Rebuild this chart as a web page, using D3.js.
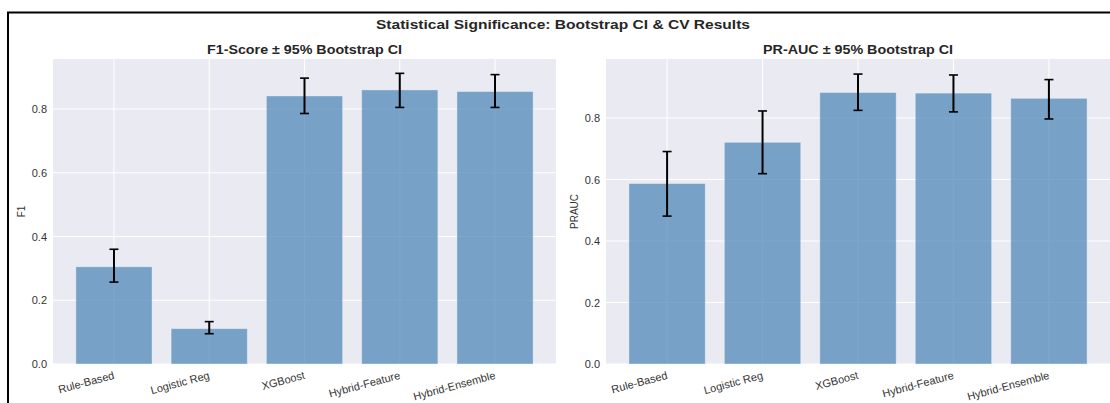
<!DOCTYPE html>
<html>
<head>
<meta charset="utf-8">
<script src="https://cdn.jsdelivr.net/npm/d3@7"></script>
<style>
  html, body { margin: 0; padding: 0; background: #fff; }
  svg { display: block; font-family: "Liberation Sans", Arial, sans-serif; }
</style>
</head>
<body>
<svg id="chart" width="1110" height="403"></svg>
<script>
// Model names shared by both panels
const models = ["Rule-Based", "Logistic Reg", "XGBoost", "Hybrid-Feature", "Hybrid-Ensemble"];

// F1 point estimates with 95% bootstrap interval bounds
const f1Values = [0.305, 0.111, 0.841, 0.860, 0.855];
const f1Lower  = [0.257, 0.095, 0.786, 0.805, 0.805];
const f1Upper  = [0.360, 0.133, 0.897, 0.912, 0.908];

// PR-AUC point estimates with 95% bootstrap interval bounds
const prValues = [0.587, 0.721, 0.883, 0.881, 0.864];
const prLower  = [0.481, 0.619, 0.825, 0.820, 0.797];
const prUpper  = [0.691, 0.823, 0.943, 0.940, 0.925];

const yTicks = [0.0, 0.2, 0.4, 0.6, 0.8];

const svg = d3.select("#chart");
const textColor = "#262626";

// Outer figure frame
svg.append("path")
  .attr("d", "M8,404 L8,12.5 L1112,12.5")
  .attr("fill", "none")
  .attr("stroke", "#000")
  .attr("stroke-width", 2);

// Figure title
svg.append("text")
  .attr("x", 563).attr("y", 28.5)
  .attr("text-anchor", "middle")
  .attr("font-size", 13).attr("font-weight", "bold")
  .attr("fill", textColor)
  .attr("textLength", 374).attr("lengthAdjust", "spacingAndGlyphs")
  .text("Statistical Significance: Bootstrap CI & CV Results");

function panel(opts) {
  const { left, right, top, bottom, yMax, values, lower, upper, title, titleWidth, ylabel, ylabelX } = opts;
  const g = svg.append("g");

  const x = d3.scaleLinear().domain([-0.64, models.length - 1 + 0.64]).range([left, right]);
  const y = d3.scaleLinear().domain([0, yMax]).range([bottom, top]);

  // plot background
  g.append("rect")
    .attr("x", left).attr("y", top)
    .attr("width", right - left).attr("height", bottom - top)
    .attr("fill", "#eaeaf2");

  // grid
  g.selectAll(".hgrid").data(yTicks).join("line")
    .attr("x1", left).attr("x2", right)
    .attr("y1", d => y(d)).attr("y2", d => y(d))
    .attr("stroke", "#fff").attr("stroke-width", 1.1);
  g.selectAll(".vgrid").data(models).join("line")
    .attr("x1", (d, i) => x(i)).attr("x2", (d, i) => x(i))
    .attr("y1", top).attr("y2", bottom)
    .attr("stroke", "#fff").attr("stroke-width", 1.1);

  // bars
  const bw = x(0.4) - x(-0.4);
  g.selectAll(".bar").data(values).join("rect")
    .attr("x", (d, i) => x(i) - bw / 2)
    .attr("width", bw)
    .attr("y", d => y(d))
    .attr("height", d => y(0) - y(d))
    .attr("fill", "steelblue")
    .attr("fill-opacity", 0.7)
    .attr("stroke", "#fff")
    .attr("stroke-opacity", 0.35)
    .attr("stroke-width", 1);

  // error bars
  const cap = 4.5;
  const eb = g.selectAll(".err").data(values).join("g");
  eb.append("line")
    .attr("x1", (d, i) => x(i)).attr("x2", (d, i) => x(i))
    .attr("y1", (d, i) => y(lower[i])).attr("y2", (d, i) => y(upper[i]))
    .attr("stroke", "#000").attr("stroke-width", 2);
  eb.append("line")
    .attr("x1", (d, i) => x(i) - cap).attr("x2", (d, i) => x(i) + cap)
    .attr("y1", (d, i) => y(upper[i])).attr("y2", (d, i) => y(upper[i]))
    .attr("stroke", "#000").attr("stroke-width", 1.6);
  eb.append("line")
    .attr("x1", (d, i) => x(i) - cap).attr("x2", (d, i) => x(i) + cap)
    .attr("y1", (d, i) => y(lower[i])).attr("y2", (d, i) => y(lower[i]))
    .attr("stroke", "#000").attr("stroke-width", 1.6);

  // y axis labels
  const yAxis = d3.axisLeft(y).tickValues(yTicks).tickFormat(d3.format(".1f")).tickSize(0).tickPadding(6);
  const ya = g.append("g").attr("transform", `translate(${left},0)`).call(yAxis);
  ya.select(".domain").remove();
  ya.selectAll("text").attr("font-size", 11).attr("fill", "#333").attr("font-family", "Liberation Sans, Arial, sans-serif");

  // x axis labels (rotated)
  const xa = g.append("g").attr("transform", `translate(0,${bottom})`);
  xa.selectAll("text").data(models).join("text")
    .attr("transform", (d, i) => `translate(${x(i) - 1},${7}) rotate(-15)`)
    .attr("text-anchor", "end")
    .attr("dy", "0.71em")
    .attr("font-size", 11)
    .attr("fill", "#333")
    .text(d => d);

  // panel title
  g.append("text")
    .attr("x", (left + right) / 2).attr("y", top - 5)
    .attr("text-anchor", "middle")
    .attr("font-size", 12.5).attr("font-weight", "bold")
    .attr("fill", textColor)
    .attr("textLength", titleWidth).attr("lengthAdjust", "spacingAndGlyphs")
    .text(title);

  // y label
  g.append("text")
    .attr("transform", `translate(${ylabelX},${(top + bottom) / 2}) rotate(-90)`)
    .attr("text-anchor", "middle")
    .attr("font-size", 10)
    .attr("fill", "#333")
    .text(ylabel);
}

panel({
  left: 53, right: 556, top: 59, bottom: 364, yMax: 0.957,
  values: f1Values, lower: f1Lower, upper: f1Upper,
  title: "F1-Score \u00b1 95% Bootstrap CI", titleWidth: 195, ylabel: "F1", ylabelX: 25
});

panel({
  left: 606, right: 1110, top: 59, bottom: 364, yMax: 0.992,
  values: prValues, lower: prLower, upper: prUpper,
  title: "PR-AUC \u00b1 95% Bootstrap CI", titleWidth: 190, ylabel: "PRAUC", ylabelX: 578
});
</script>
</body>
</html>
